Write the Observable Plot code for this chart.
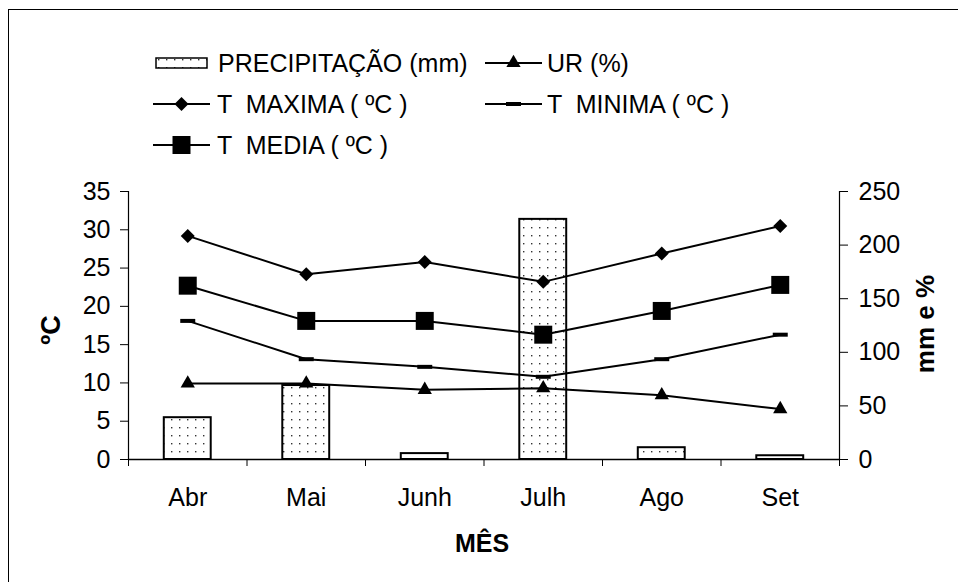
<!DOCTYPE html>
<html>
<head>
<meta charset="utf-8">
<script src="https://cdn.jsdelivr.net/npm/d3@7"></script>
<script src="https://cdn.jsdelivr.net/npm/@observablehq/plot@0.6"></script>
<style>
  html, body { margin: 0; padding: 0; background: #fff; }
  #wrap { position: relative; width: 958px; height: 582px; overflow: hidden; font-family: "Liberation Sans", Arial, sans-serif; color: #000; background: #fff; }
  #frame { position: absolute; left: 8px; top: 9px; width: 2000px; height: 2000px; border-left: 1px solid #000; border-top: 1px solid #000; }
  #chart { position: absolute; left: 0; top: 0; }
  .lg-text { position: absolute; font-size: 25px; white-space: pre; line-height: 30px; height: 30px; }
  .lg-sym { position: absolute; }
</style>
</head>
<body>
<div id="wrap">
  <div id="frame"></div>
  <div id="chart"></div>
  <div id="legend"></div>
</div>
<script>
// ---- data ----
const months = ["Abr", "Mai", "Junh", "Julh", "Ago", "Set"];
const precipitacao = [39, 69, 5.5, 224, 11, 3.5];      // mm (right axis)
const ur = [71, 71, 65, 66.5, 60, 47];                  // % (right axis)
const tMaxima = [29.2, 24.2, 25.8, 23.2, 26.9, 30.5];   // ºC (left axis)
const tMinima = [18.1, 13.1, 12.1, 10.8, 13.1, 16.3];   // ºC
const tMedia = [22.7, 18.1, 18.1, 16.3, 19.4, 22.8];    // ºC
const leftTicks = [0, 5, 10, 15, 20, 25, 30, 35];
const rightTicks = [0, 50, 100, 150, 200, 250];
const legendLabels = ["PRECIPITAÇÃO (mm)", "UR (%)", "T  MAXIMA ( ºC )", "T  MINIMA ( ºC )", "T  MEDIA ( ºC )"];

// ---- scales helpers ----
const K = 35 / 250; // right-axis units -> left-axis units
const rows = months.map((m, i) => ({
  m, i, x: i + 0.5,
  precip: precipitacao[i], ur: ur[i], tmax: tMaxima[i], tmin: tMinima[i], tmed: tMedia[i]
}));

const dashSymbol = { draw(ctx) { ctx.rect(-7.5, -2, 15, 4); } };

const chart = Plot.plot({
  width: 958,
  height: 582,
  marginLeft: 128,
  marginRight: 119,
  marginTop: 191,
  marginBottom: 123,
  x: { domain: [0, months.length] },
  y: { domain: [0, 35] },
  style: { fontFamily: "'Liberation Sans', Arial, sans-serif", fontSize: "25px", color: "#000", background: "transparent", overflow: "visible" },
  marks: [
    Plot.rectY(rows, { x1: d => d.x - 0.198, x2: d => d.x + 0.198, y1: 0, y2: d => d.precip * K, fill: "url(#dots)", stroke: "#000", strokeWidth: 2 }),
    Plot.ruleY([0], { stroke: "#000", strokeWidth: 1.5 }),
    Plot.ruleX([0, months.length], { stroke: "#000", strokeWidth: 1.2 }),
    Plot.axisY({ ticks: leftTicks, tickSize: 8, tickPadding: 10, label: null, strokeOpacity: 1 }),
    Plot.axisY({ anchor: "right", ticks: rightTicks.map(v => v * K), tickFormat: v => String(Math.round(v / K)), tickSize: 8, tickPadding: 11, label: null }),
    Plot.axisX({ ticks: d3.range(0, months.length + 1), tickFormat: () => "", tickSize: 7, label: null }),
    Plot.axisX({ ticks: rows.map(d => d.x), tickFormat: v => months[Math.floor(v)], tickSize: 0, tickPadding: 29, label: null }),
    // lines
    Plot.line(rows, { x: "x", y: d => d.ur * K, stroke: "#000", strokeWidth: 2 }),
    Plot.line(rows, { x: "x", y: "tmin", stroke: "#000", strokeWidth: 2 }),
    Plot.line(rows, { x: "x", y: "tmed", stroke: "#000", strokeWidth: 2 }),
    Plot.line(rows, { x: "x", y: "tmax", stroke: "#000", strokeWidth: 2 }),
    // markers
    Plot.dot(rows, { x: "x", y: d => d.ur * K, symbol: "triangle", r: 5.3, fill: "#000", stroke: "none" }),
    Plot.dot(rows, { x: "x", y: "tmin", symbol: dashSymbol, r: 5, fill: "#000", stroke: "none" }),
    Plot.dot(rows, { x: "x", y: "tmed", symbol: "square", r: 10.15, fill: "#000", stroke: "none" }),
    Plot.dot(rows, { x: "x", y: "tmax", symbol: "diamond2", r: 6.3, fill: "#000", stroke: "none" })
  ]
});

document.getElementById("chart").appendChild(chart);

// dotted pattern for precipitation bars
const svg = d3.select(chart);
const defs = svg.insert("defs", ":first-child");
function addPattern(defsSel, id) {
  const p = defsSel.append("pattern").attr("id", id).attr("patternUnits", "userSpaceOnUse")
    .attr("width", 8).attr("height", 8);
  p.append("rect").attr("width", 8).attr("height", 8).attr("fill", "#fff");
  p.append("rect").attr("x", 3).attr("y", 3).attr("width", 1.4).attr("height", 1.4).attr("fill", "#333");
}
addPattern(defs, "dots");

// axis titles
svg.append("text").text("ºC")
  .attr("transform", "translate(51,330) rotate(-90)")
  .attr("text-anchor", "middle").attr("dominant-baseline", "central")
  .attr("font-weight", "bold").attr("font-size", 27).attr("fill", "#000");
svg.append("text").text("mm e %")
  .attr("transform", "translate(925,324) rotate(-90)")
  .attr("text-anchor", "middle").attr("dominant-baseline", "central")
  .attr("font-weight", "bold").attr("font-size", 26).attr("fill", "#000");
svg.append("text").text("MÊS")
  .attr("x", 482).attr("y", 543)
  .attr("text-anchor", "middle").attr("dominant-baseline", "central")
  .attr("font-weight", "bold").attr("font-size", 25).attr("fill", "#000");

// ---- legend ----
const legend = d3.select("#legend");
const rowY = [63, 104, 145];
const items = [
  { label: legendLabels[0], kind: "bar", sx: 155, tx: 218, row: 0 },
  { label: legendLabels[1], kind: "triangle", sx: 485, tx: 547, row: 0 },
  { label: legendLabels[2], kind: "diamond", sx: 153, tx: 217, row: 1 },
  { label: legendLabels[3], kind: "dash", sx: 485, tx: 547, row: 1 },
  { label: legendLabels[4], kind: "square", sx: 153, tx: 217, row: 2 }
];
items.forEach(it => {
  const cy = rowY[it.row];
  const s = legend.append("svg").attr("class", "lg-sym")
    .style("left", it.sx + "px").style("top", (cy - 15) + "px")
    .attr("width", 58).attr("height", 30);
  if (it.kind === "bar") {
    const d = s.append("defs");
    addPattern(d, "dotsLegend");
    s.append("rect").attr("x", 1).attr("y", 10).attr("width", 51).attr("height", 10)
      .attr("fill", "url(#dotsLegend)").attr("stroke", "#000").attr("stroke-width", 1.5);
  } else {
    s.append("line").attr("x1", 0).attr("x2", 57).attr("y1", 15).attr("y2", 15)
      .attr("stroke", "#000").attr("stroke-width", 2);
    let sym, size;
    if (it.kind === "triangle") { sym = d3.symbolTriangle; size = Math.PI * 5.3 * 5.3; }
    else if (it.kind === "diamond") { sym = d3.symbolDiamond2; size = Math.PI * 6.3 * 6.3; }
    else if (it.kind === "square") { sym = d3.symbolSquare; size = Math.PI * 10.15 * 10.15; }
    else { sym = dashSymbol; size = 1; }
    s.append("path").attr("transform", "translate(28.5,15)")
      .attr("d", d3.symbol(sym, size)()).attr("fill", "#000");
  }
  legend.append("div").attr("class", "lg-text")
    .style("left", it.tx + "px").style("top", (cy - 15) + "px")
    .text(it.label);
});
</script>
</body>
</html>
